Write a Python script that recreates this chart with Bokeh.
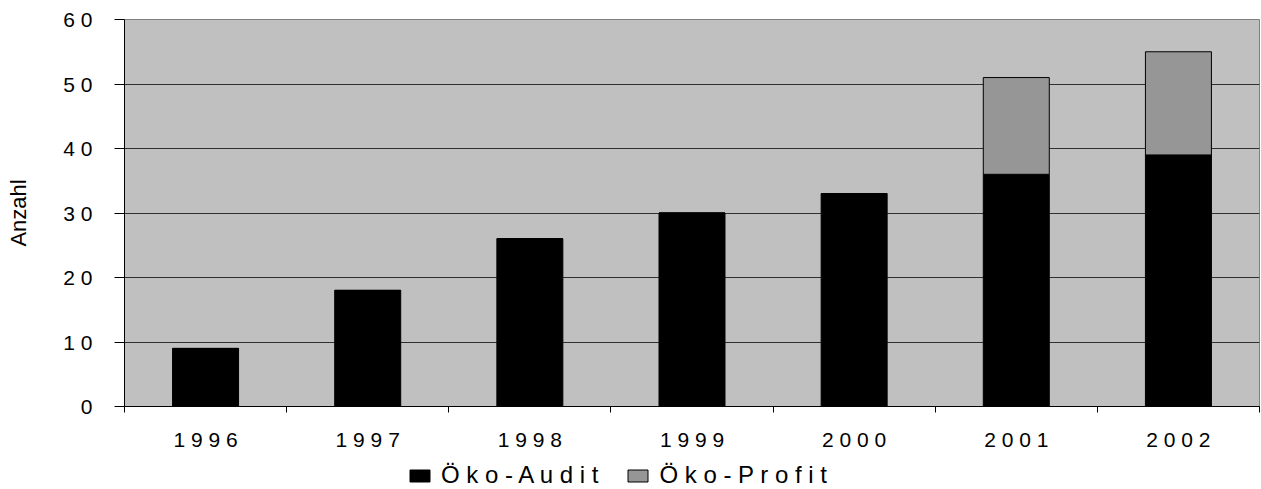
from bokeh.plotting import figure
from bokeh.layouts import column
from bokeh.models import (ColumnDataSource, Range1d, FixedTicker, Legend, LegendItem)
from bokeh.embed import file_html
from bokeh.resources import INLINE

# ---- data ----
years = ["1996", "1997", "1998", "1999", "2000", "2001", "2002"]
year_labels = ["1 9 9 6", "1 9 9 7", "1 9 9 8", "1 9 9 9", "2 0 0 0", "2 0 0 1", "2 0 0 2"]
oeko_audit = [9, 18, 26, 30, 33, 36, 39]
oeko_profit = [0, 0, 0, 0, 0, 15, 16]
series_names = ["Ö k o - A u d i t", "Ö k o - P r o f i t"]
series_colors = ["#000000", "#969696"]
y_ticks = [0, 10, 20, 30, 40, 50, 60]
y_tick_labels = ["0", "1 0", "2 0", "3 0", "4 0", "5 0", "6 0"]
y_label = "Anzahl"

FONT = "Liberation Sans"

xpos = [i + 0.5 for i in range(len(years))]
source = ColumnDataSource(dict(x=xpos, year=years, audit=oeko_audit, profit=oeko_profit))

# ---------------- main chart ----------------
p = figure(width=1261, height=453, output_backend="svg", toolbar_location=None,
           x_range=Range1d(0, len(years)), y_range=Range1d(0, 60),
           min_border_left=124, min_border_right=2, min_border_top=19, min_border_bottom=46)

p.background_fill_color = "#C0C0C0"
p.border_fill_color = "white"
p.outline_line_color = "#808080"
p.outline_line_width = 1

p.vbar_stack(["audit", "profit"], x="x", width=0.407, source=source,
             fill_color=series_colors, line_color="#000000", line_width=1)

# x axis: labels at category centres, ticks at category boundaries
xa = p.xaxis[0]
xa.ticker = FixedTicker(ticks=xpos, minor_ticks=list(range(len(years) + 1)))
xa.major_label_overrides = {x: lab for x, lab in zip(xpos, year_labels)}
xa.major_tick_out = 0
xa.major_tick_in = 0
xa.minor_tick_out = 6
xa.minor_tick_in = 0
xa.minor_tick_line_color = "black"
xa.axis_line_color = "black"
xa.major_label_standoff = 15
xa.major_label_text_font = FONT
xa.major_label_text_font_size = "21px"
xa.major_label_text_color = "black"

ya = p.yaxis[0]
ya.ticker = FixedTicker(ticks=y_ticks, minor_ticks=[])
ya.major_label_overrides = {t: lab for t, lab in zip(y_ticks, y_tick_labels)}
ya.major_tick_out = 10
ya.major_tick_in = 0
ya.major_tick_line_color = "black"
ya.axis_line_color = "black"
ya.major_label_standoff = 22
ya.major_label_text_font = FONT
ya.major_label_text_font_size = "21px"
ya.major_label_text_color = "black"
ya.axis_label = y_label
ya.axis_label_text_font = FONT
ya.axis_label_text_font_size = "22px"
ya.axis_label_text_font_style = "normal"
ya.axis_label_text_color = "black"
ya.axis_label_standoff = 29

p.xgrid.visible = False
p.ygrid.ticker = FixedTicker(ticks=y_ticks[1:-1])
p.ygrid.grid_line_color = "#303030"
p.ygrid.grid_line_width = 1

# ---------------- legend strip ----------------
p2 = figure(width=1261, height=36, output_backend="svg", toolbar_location=None,
            x_range=Range1d(0, 1), y_range=Range1d(0, 1),
            min_border=0, outline_line_color=None)
p2.axis.visible = False
p2.grid.visible = False
# one undrawn (NaN) row per series, only to give the legend its swatches
swatch = ColumnDataSource(dict(x=[float("nan")], top=[float("nan")]))
leg_renderers = [p2.vbar(x="x", top="top", width=1, source=swatch,
                         fill_color=c, line_color="#000000") for c in series_colors]

legend = Legend(items=[LegendItem(label=n, renderers=[r]) for n, r in zip(series_names, leg_renderers)],
                orientation="horizontal", location=(283, 0),
                glyph_width=25, glyph_height=15, label_standoff=9, spacing=27,
                padding=0, margin=0, border_line_color=None, background_fill_alpha=0,
                label_text_font=FONT, label_text_font_size="24px", label_text_color="black")
p2.add_layout(legend)

layout = column(p, p2, spacing=0)
open("out.html", "w").write(file_html(layout, INLINE))
